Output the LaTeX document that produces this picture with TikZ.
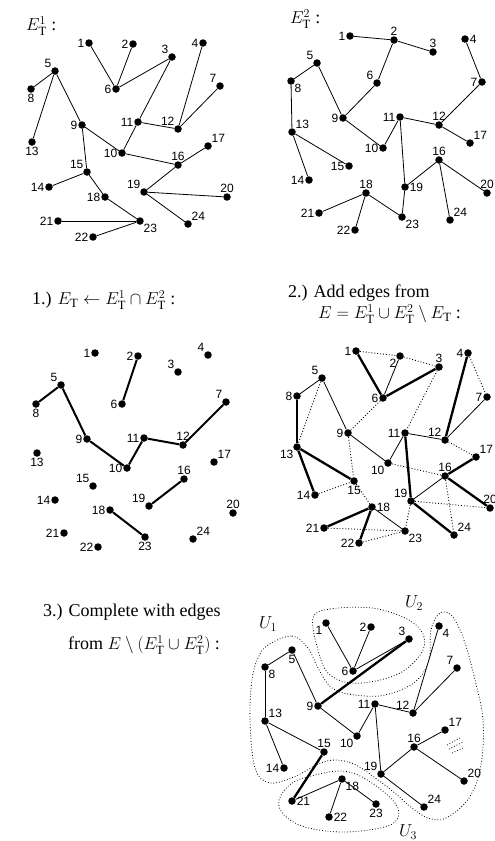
\documentclass[tikz,border=0pt]{standalone}
\usepackage{fontspec}
\setmainfont{Liberation Serif}
\setsansfont{Liberation Sans}
\usetikzlibrary{calc}
\newcommand\vtx[5]{\node[v,label={[lbl]#5:#2}] (#1#2) at (#3,#4) {};}
\newcommand\ttl{\fontsize{18}{20}\selectfont}
\begin{document}
\begin{tikzpicture}[x=1pt,y=-1pt,
  v/.style={circle,fill=black,inner sep=0pt,minimum size=7.5pt},
  lbl/.style={font=\fontsize{12}{12}\sffamily\selectfont,inner sep=0.6pt},
  ttlnode/.style={font=\ttl,anchor=west,inner sep=0pt},
  e/.style={line width=0.8pt},
  tk/.style={line width=2.3pt},
  dt/.style={dotted,line width=0.9pt},
  reg/.style={dotted,line width=0.8pt}]
\useasboundingbox (0,0) rectangle (495,841);

% ---------- titles ----------
\node[ttlnode] (t1) at (26,26) {$E_{\mathrm{T}}^{1}$ :};
\node[ttlnode] (t2) at (290,19) {$E_{\mathrm{T}}^{2}$ :};
\node[ttlnode] (t3) at (32,300) {1.) $E_{\mathrm{T}} \leftarrow E_{\mathrm{T}}^{1}\cap E_{\mathrm{T}}^{2}$ :};
\node[ttlnode] (t4) at (288,293) {2.) Add edges from};
\node[ttlnode] (t5) at (318,314) {$E = E_{\mathrm{T}}^{1}\cup E_{\mathrm{T}}^{2}\setminus E_{\mathrm{T}}$ :};
\node[ttlnode] (t6) at (43,612) {3.) Complete with edges};
\node[ttlnode] (t7) at (68,645) {from $E\setminus(E_{\mathrm{T}}^{1}\cup E_{\mathrm{T}}^{2})$ :};

% ---------- graph 1 ----------
\vtx{a}{1}{89}{43}{left}
\vtx{a}{2}{133}{44}{left}
\vtx{a}{3}{172}{57}{above left}
\vtx{a}{4}{203}{43}{left}
\vtx{a}{5}{55}{71}{above left}
\vtx{a}{6}{116}{89}{left}
\vtx{a}{7}{220}{86}{above left}
\vtx{a}{8}{31}{89}{below}
\vtx{a}{9}{82}{125}{left}
\vtx{a}{10}{122}{153}{left}
\vtx{a}{11}{138}{122}{left}
\vtx{a}{12}{178}{129}{above left}
\vtx{a}{13}{32}{142}{below}
\vtx{a}{14}{49}{187}{left}
\vtx{a}{15}{87}{172}{above left}
\vtx{a}{16}{178}{165}{above}
\vtx{a}{17}{208}{146}{above right}
\vtx{a}{18}{105}{197}{left}
\vtx{a}{19}{144}{192}{above left}
\vtx{a}{20}{227}{197}{above}
\vtx{a}{21}{58}{221}{left}
\vtx{a}{22}{93}{237}{left}
\vtx{a}{23}{140}{221}{below right}
\vtx{a}{24}{188}{224}{above right}
\foreach \u/\w in {1/6,2/6,3/6,3/11,4/12,7/12,5/8,5/13,5/9,9/10,9/15,11/10,11/12,10/16,16/17,16/19,19/20,19/24,15/14,15/18,18/23,21/23,22/23}
  \draw[e] (a\u)--(a\w);

% ---------- graph 2 ----------
\vtx{b}{1}{350}{36}{left}
\vtx{b}{2}{394}{40}{above}
\vtx{b}{3}{433}{52}{above}
\vtx{b}{4}{465}{39}{right}
\vtx{b}{5}{317}{63}{above left}
\vtx{b}{6}{377}{83}{above left}
\vtx{b}{7}{482}{82}{left}
\vtx{b}{8}{291}{81}{below right}
\vtx{b}{9}{343}{118}{left}
\vtx{b}{10}{383}{148}{left}
\vtx{b}{11}{400}{117}{left}
\vtx{b}{12}{439}{125}{above}
\vtx{b}{13}{292}{132}{above right}
\vtx{b}{14}{309}{180}{left}
\vtx{b}{15}{349}{166}{left}
\vtx{b}{16}{439}{160}{above}
\vtx{b}{17}{470}{143}{above right}
\vtx{b}{18}{366}{193}{above}
\vtx{b}{19}{405}{187}{right}
\vtx{b}{20}{487}{193}{above}
\vtx{b}{21}{319}{213}{left}
\vtx{b}{22}{355}{230}{left}
\vtx{b}{23}{402}{217}{below right}
\vtx{b}{24}{450}{220}{above right}
\foreach \u/\w in {1/2,2/3,2/6,6/9,5/9,5/8,8/13,9/10,10/11,11/12,11/19,12/7,7/4,12/17,13/14,13/15,16/19,16/20,16/24,18/21,18/22,18/23,19/23}
  \draw[e] (b\u)--(b\w);

% ---------- graph 3 ----------
\vtx{c}{1}{95}{353}{left}
\vtx{c}{2}{138}{356}{left}
\vtx{c}{3}{178}{372}{above left}
\vtx{c}{4}{208}{355}{above left}
\vtx{c}{5}{61}{385}{above left}
\vtx{c}{6}{122}{404}{left}
\vtx{c}{7}{226}{402}{above left}
\vtx{c}{8}{36}{404}{below}
\vtx{c}{9}{87}{439}{left}
\vtx{c}{10}{127}{468}{left}
\vtx{c}{11}{144}{438}{left}
\vtx{c}{12}{183}{445}{above}
\vtx{c}{13}{37}{453}{below}
\vtx{c}{14}{55}{500}{left}
\vtx{c}{15}{93}{486}{above left}
\vtx{c}{16}{184}{479}{above}
\vtx{c}{17}{214}{462}{above right}
\vtx{c}{18}{110}{510}{left}
\vtx{c}{19}{149}{506}{above left}
\vtx{c}{20}{233}{513}{above}
\vtx{c}{21}{64}{533}{left}
\vtx{c}{22}{98}{547}{left}
\vtx{c}{23}{145}{537}{below}
\vtx{c}{24}{193}{539}{above right}
\foreach \u/\w in {5/8,5/9,9/10,10/11,11/12,12/7,2/6,16/19,18/23}
  \draw[line width=2pt] (c\u)--(c\w);

% ---------- graph 4 ----------
\vtx{d}{1}{356}{351}{left}
\vtx{d}{2}{400}{356}{below left}
\vtx{d}{3}{439}{367}{above}
\vtx{d}{4}{468}{353}{left}
\vtx{d}{5}{322}{378}{above left}
\vtx{d}{6}{383}{398}{left}
\vtx{d}{7}{487}{397}{left}
\vtx{d}{8}{297}{396}{left}
\vtx{d}{9}{348}{433}{left}
\vtx{d}{10}{388}{463}{below left}
\vtx{d}{11}{405}{433}{left}
\vtx{d}{12}{445}{440}{above left}
\vtx{d}{13}{297}{447}{below left}
\vtx{d}{14}{315}{495}{left}
\vtx{d}{15}{354}{481}{below}
\vtx{d}{16}{445}{476}{above}
\vtx{d}{17}{476}{457}{above right}
\vtx{d}{18}{372}{507}{right}
\vtx{d}{19}{411}{501}{above left}
\vtx{d}{20}{490}{508}{above}
\vtx{d}{21}{324}{528}{left}
\vtx{d}{22}{359}{543}{left}
\vtx{d}{23}{405}{531}{below right}
\vtx{d}{24}{454}{535}{above right}
\foreach \u/\w in {2/6,5/8,5/9,9/10,10/11,11/12,7/12,16/19,18/23}
  \draw[e] (d\u)--(d\w);
\foreach \u/\w in {1/6,3/6,8/13,4/12,11/19,16/17,16/20,19/24,13/14,13/15,18/21,18/22}
  \draw[tk] (d\u)--(d\w);
\foreach \u/\w in {1/2,2/3,3/11,6/9,5/13,9/15,4/7,12/17,10/16,16/24,19/20,19/23,14/15,15/18,21/23,22/23}
  \draw[dt] (d\u)--(d\w);

% ---------- graph 5 ----------
\vtx{e}{1}{326}{623}{below left}
\vtx{e}{2}{371}{627}{left}
\vtx{e}{3}{409}{639}{above left}
\vtx{e}{4}{439}{626}{below right}
\vtx{e}{5}{292}{650}{below}
\vtx{e}{6}{353}{671}{left}
\vtx{e}{7}{457}{668}{above left}
\vtx{e}{8}{265}{667}{below right}
\vtx{e}{9}{318}{706}{left}
\vtx{e}{10}{357}{736}{below left}
\vtx{e}{11}{375}{704}{left}
\vtx{e}{12}{413}{713}{above left}
\vtx{e}{13}{265}{721}{above right}
\vtx{e}{14}{284}{768}{left}
\vtx{e}{15}{324}{752}{above}
\vtx{e}{16}{414}{747}{above}
\vtx{e}{17}{445}{730}{above right}
\vtx{e}{18}{342}{779}{below right}
\vtx{e}{19}{381}{774}{above left}
\vtx{e}{20}{464}{781}{above right}
\vtx{e}{21}{292}{801}{right}
\vtx{e}{22}{329}{817}{right}
\vtx{e}{23}{376}{804}{below}
\vtx{e}{24}{424}{807}{above right}
\foreach \u/\w in {1/6,2/6,3/6,5/8,5/9,8/13,9/10,10/11,11/12,4/12,7/12,11/19,13/14,13/15,16/17,16/19,16/20,19/24,18/21,18/22,18/23}
  \draw[e] (e\u)--(e\w);
\foreach \u/\w in {3/9,15/21}
  \draw[tk] (e\u)--(e\w);

% regions
\draw[reg] plot[smooth cycle,tension=0.6] coordinates {(313,618) (330,609) (372,608) (405,618) (422,632) (423,650) (405,670) (380,680) (350,683) (328,673) (318,650)};
\draw[reg] plot[smooth cycle,tension=0.6] coordinates {(268,645) (292,636) (308,648) (318,668) (332,688) (355,695) (385,695) (415,682) (429,660) (431,630) (440,613) (452,616) (464,640) (475,680) (483,720) (481,765) (469,798) (446,818) (428,818) (412,808) (396,794) (378,780) (356,765) (336,760) (318,764) (296,776) (270,783) (255,768) (250,720) (252,680) (258,658)};
\draw[reg] plot[smooth cycle,tension=0.6] coordinates {(279,800) (292,783) (315,775) (340,771) (360,776) (384,792) (398,808) (395,822) (375,829) (340,832) (305,827) (284,815)};
\draw[reg] (447,745)--(460,738) (449,749)--(463,742) (452,753)--(463,748);
\node[font=\ttl,inner sep=0pt] (u1) at (268,624) {$U_1$};
\node[font=\ttl,inner sep=0pt] (u2) at (414,603) {$U_2$};
\node[font=\ttl,inner sep=0pt] (u3) at (408,832) {$U_3$};
\end{tikzpicture}
\end{document}
